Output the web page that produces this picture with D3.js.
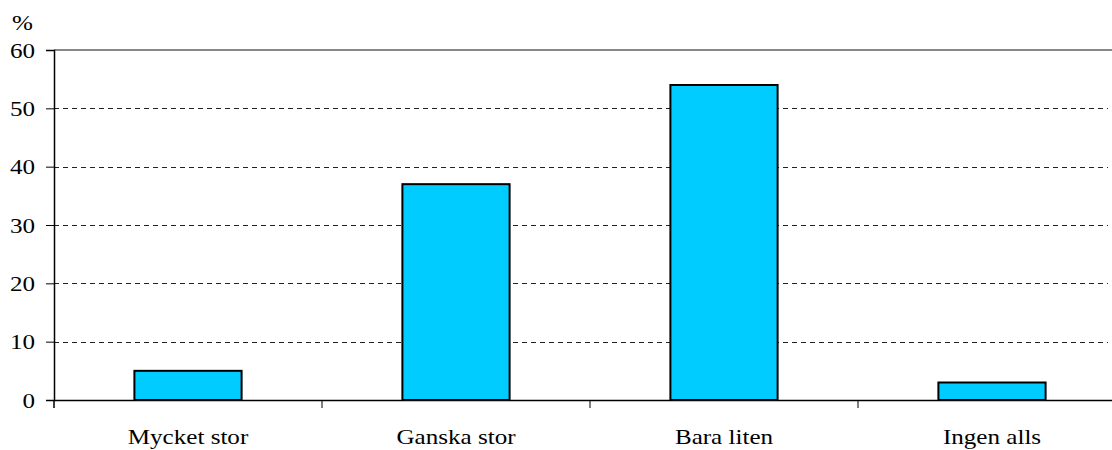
<!DOCTYPE html>
<html><head><meta charset="utf-8">
<script src="https://cdn.jsdelivr.net/npm/d3@7"></script>
<style>body{margin:0;background:#fff;overflow:hidden}svg{display:block}svg text{font-family:"Liberation Serif","Times New Roman","DejaVu Serif",serif !important;fill:#000}</style>
</head><body>
<svg id="c" width="1112" height="450"></svg>
<script>
const categories = ["Mycket stor", "Ganska stor", "Bara liten", "Ingen alls"];
const values = [5, 37, 54, 3];
const yTicks = [0, 10, 20, 30, 40, 50, 60];
const yUnit = "%";

(function () {
const svg = d3.select("#c");
const mLeft = 54, mRight = 1126, mTop = 50, mBottom = 400;
const FS = 22, STRETCH = 1.14;
const x = d3.scaleBand().domain(categories).range([mLeft, mRight]).paddingInner(0.6).paddingOuter(0.3);
const y = d3.scaleLinear().domain([0, 60]).range([mBottom, mTop]);

svg.append("g").selectAll("line").data(yTicks.filter(d => d > 0 && d < 60)).join("line")
  .attr("x1", mLeft).attr("x2", 1108)
  .attr("y1", d => Math.round(y(d)) + 0.5).attr("y2", d => Math.round(y(d)) + 0.5)
  .attr("stroke", "#222").attr("stroke-width", 1).attr("stroke-dasharray", "5,4");
svg.append("line").attr("x1", mLeft).attr("x2", 1112).attr("y1", y(60)).attr("y2", y(60))
  .attr("stroke", "#888").attr("stroke-width", 2);

svg.append("g").selectAll("rect").data(values).join("rect")
  .attr("x", (d, i) => x(categories[i])).attr("width", x.bandwidth())
  .attr("y", d => y(d)).attr("height", d => y(0) - y(d))
  .attr("fill", "#00CCFF").attr("stroke", "#000").attr("stroke-width", 2);

const ya = d3.axisLeft(y).tickValues(yTicks).tickSize(8).tickPadding(11);
const gy = svg.append("g").attr("transform", `translate(${mLeft},0)`).call(ya)
  .attr("font-family", null).attr("font-size", FS);
gy.select(".domain").attr("stroke", "#000").attr("stroke-width", 1.5);
gy.selectAll(".tick line").attr("stroke", "#000");

const xa = d3.axisBottom(x).tickSize(8).tickSizeOuter(0).tickPadding(20);
const gx = svg.append("g").attr("transform", `translate(0,${mBottom})`).call(xa)
  .attr("font-family", null).attr("font-size", FS);
gx.select(".domain").attr("stroke", "#000").attr("stroke-width", 1.5);
gx.selectAll(".tick line").attr("stroke", "#000")
  .attr("transform", d => `translate(${-x.step()/2},0)`);
gx.append("line").attr("x1", mLeft).attr("x2", mLeft).attr("y1", 0).attr("y2", 8).attr("stroke", "#000");

svg.append("text").attr("x", 12).attr("y", 30).attr("font-size", FS).text(yUnit);

svg.selectAll("text").each(function () {
  const w = this.getComputedTextLength();
  d3.select(this).attr("textLength", w * STRETCH).attr("lengthAdjust", "spacingAndGlyphs");
});
})();
</script>
</body></html>
